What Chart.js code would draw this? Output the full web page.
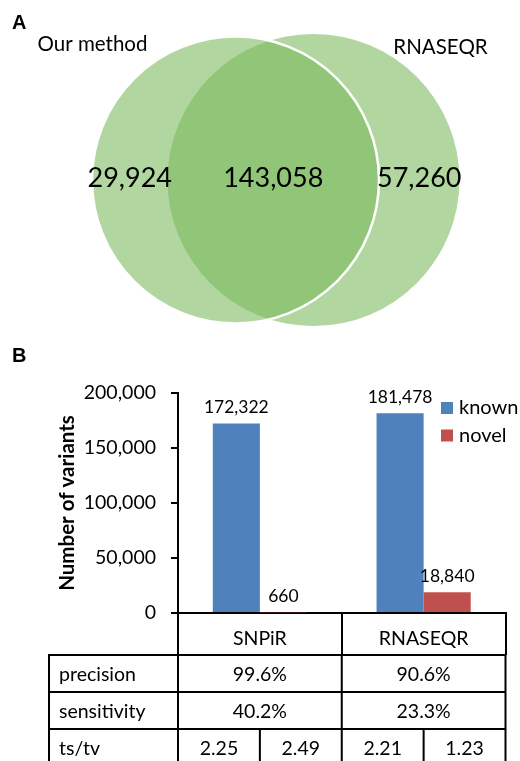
<!DOCTYPE html>
<html>
<head>
<meta charset="utf-8">
<script src="https://cdn.jsdelivr.net/npm/chart.js@4.4.1/dist/chart.umd.min.js"></script>
<style>
  html, body { margin: 0; padding: 0; background: #fff; }
  #fig { position: relative; width: 520px; height: 761px; overflow: hidden; }
  #venn { position: absolute; left: 0; top: 0; }
  #bars { position: absolute; left: 0; top: 340px; }
</style>
</head>
<body>
<div id="fig">
  <canvas id="venn" width="520" height="340"></canvas>
  <canvas id="bars" width="520" height="421"></canvas>
</div>
<script>
// ---- Panel A: overlap of called variants ----
const vennSets = ['Our method', 'RNASEQR'];
const vennCounts = [29924, 143058, 57260];   // only first set, shared, only second set

// ---- Panel B: variant counts per caller ----
const methods = ['SNPiR', 'RNASEQR'];
const seriesNames = ['known', 'novel'];
const knownCounts = [172322, 181478];
const novelCounts = [660, 18840];
const yTicks = [0, 50000, 100000, 150000, 200000];

// ---- Panel B: summary table under the bars ----
const metricNames = ['precision', 'sensitivity', 'ts/tv'];
const precision = ['99.6%', '90.6%'];
const sensitivity = ['40.2%', '23.3%'];
const tsTvKnown = ['2.25', '2.21'];
const tsTvNovel = ['2.49', '1.23'];

const FONT = 'Lato, "Open Sans", sans-serif';
const BOLD_FONT = '"Liberation Sans", Arial, sans-serif';
const fmt = v => Number(v).toLocaleString('en-US');

// Panel A canvas layout: a fixed inner margin keeps the big bubbles from
// shrinking the plot area, and the scale ranges then equal canvas pixels.
const VENN_W = 520, VENN_H = 340, VENN_PAD = 150;
const circleLayout = [
  { x: 235.5, y: 180, radius: 143.5 },
  { x: 313.5, y: 180, radius: 146 }
];
const GREEN = 'rgba(123,185,92,0.58)';

const vennText = {
  id: 'vennText',
  afterDatasetsDraw(chart) {
    const ctx = chart.ctx;
    const a = chart.getDatasetMeta(0).data[0];
    const b = chart.getDatasetMeta(1).data[0];
    const ra = a.options.radius, rb = b.options.radius;
    const aL = a.x - ra, aR = a.x + ra, bL = b.x - rb, bR = b.x + rb;
    ctx.save();
    ctx.fillStyle = '#000';
    ctx.textAlign = 'center';
    ctx.textBaseline = 'middle';
    ctx.font = '27px ' + FONT;
    const cy = a.y - 2;
    ctx.fillText(fmt(vennCounts[0]), (aL + bL) / 2, cy);
    ctx.fillText(fmt(vennCounts[1]), (bL + aR) / 2, cy);
    ctx.fillText(fmt(vennCounts[2]), (aR + bR) / 2, cy);
    ctx.font = '20.5px ' + FONT;
    ctx.fillText(vennSets[0], aL + 0.5, a.y - 136);
    ctx.fillText(vennSets[1], bR - 19, b.y - 133);
    ctx.textAlign = 'left';
    ctx.textBaseline = 'alphabetic';
    ctx.font = 'bold 20px ' + BOLD_FONT;
    ctx.fillText('A', 12, 29);
    ctx.restore();
  }
};

new Chart(document.getElementById('venn'), {
  type: 'bubble',
  data: {
    datasets: vennSets.map((name, i) => ({
      label: name,
      data: [{ x: circleLayout[i].x, y: circleLayout[i].y }],
      radius: circleLayout[i].radius,
      hoverRadius: 0,
      backgroundColor: GREEN,
      borderColor: '#ffffff',
      borderWidth: i === 0 ? 2.5 : 0,
      clip: false
    }))
  },
  options: {
    responsive: false,
    animation: false,
    events: [],
    layout: { padding: VENN_PAD },
    plugins: { legend: { display: false }, tooltip: { enabled: false } },
    scales: {
      x: { type: 'linear', min: VENN_PAD, max: VENN_W - VENN_PAD, display: false },
      y: { type: 'linear', min: VENN_PAD, max: VENN_H - VENN_PAD, reverse: true, display: false }
    }
  },
  plugins: [vennText]
});

// value labels above each bar
const barValues = {
  id: 'barValues',
  afterDatasetsDraw(chart) {
    const ctx = chart.ctx;
    ctx.save();
    ctx.fillStyle = '#000';
    ctx.textAlign = 'center';
    ctx.textBaseline = 'middle';
    ctx.font = '17.5px ' + FONT;
    chart.data.datasets.forEach((ds, di) => {
      chart.getDatasetMeta(di).data.forEach((bar, i) => {
        ctx.fillText(fmt(ds.data[i]), bar.x, bar.y - 16);
      });
    });
    ctx.restore();
  }
};

// series key in the top right corner
const seriesKey = {
  id: 'seriesKey',
  afterDraw(chart) {
    const ctx = chart.ctx;
    const area = chart.chartArea;
    const x0 = area.right - 64.5;
    ctx.save();
    ctx.font = '20px ' + FONT;
    ctx.textBaseline = 'middle';
    ctx.textAlign = 'left';
    chart.data.datasets.forEach((ds, i) => {
      const cy = area.top + 15 + i * 27.5;
      ctx.fillStyle = ds.backgroundColor;
      ctx.fillRect(x0, cy - 6, 12, 12);
      ctx.fillStyle = '#000';
      ctx.fillText(ds.label, x0 + 18, cy);
    });
    ctx.restore();
  }
};

// metrics table aligned with the category axis
const metricsTable = {
  id: 'metricsTable',
  afterDraw(chart) {
    const ctx = chart.ctx;
    const xs = chart.scales.x;
    const area = chart.chartArea;
    const tableLeft = 49;
    const rowH = 37;
    const top = xs.top + xs.options.grid.tickLength;
    const c0 = xs.getPixelForValue(0), c1 = xs.getPixelForValue(1);
    const left = area.left, mid = (c0 + c1) / 2, right = area.right;
    const bottom = chart.height + 5;
    ctx.save();
    ctx.strokeStyle = '#000';
    ctx.lineWidth = 2;
    ctx.beginPath();
    for (let r = 0; r < metricNames.length; r++) {
      const y = top + r * rowH;
      ctx.moveTo(tableLeft - 1, y); ctx.lineTo(right + 1, y);
    }
    [tableLeft, left, mid, right].forEach(x => { ctx.moveTo(x, top); ctx.lineTo(x, bottom); });
    const tsTop = top + 2 * rowH;
    [c0, c1].forEach(x => { ctx.moveTo(x, tsTop); ctx.lineTo(x, bottom); });
    ctx.stroke();

    ctx.fillStyle = '#000';
    ctx.font = '19.5px ' + FONT;
    ctx.textBaseline = 'middle';
    metricNames.forEach((name, r) => {
      const cy = top + r * rowH + rowH / 2 + 1;
      ctx.textAlign = 'left';
      ctx.fillText(name, tableLeft + 10, cy);
      ctx.textAlign = 'center';
      if (r === 0 || r === 1) {
        const vals = r === 0 ? precision : sensitivity;
        ctx.fillText(vals[0], c0, cy);
        ctx.fillText(vals[1], c1, cy);
      } else {
        ctx.fillText(tsTvKnown[0], (left + c0) / 2, cy);
        ctx.fillText(tsTvNovel[0], (c0 + mid) / 2, cy);
        ctx.fillText(tsTvKnown[1], (mid + c1) / 2, cy);
        ctx.fillText(tsTvNovel[1], (c1 + right) / 2, cy);
      }
    });
    ctx.textAlign = 'left';
    ctx.textBaseline = 'alphabetic';
    ctx.font = 'bold 20px ' + BOLD_FONT;
    ctx.fillText('B', 12, 22);
    ctx.restore();
  }
};

new Chart(document.getElementById('bars'), {
  type: 'bar',
  data: {
    labels: methods,
    datasets: [
      { label: seriesNames[0], data: knownCounts, backgroundColor: '#4F81BD' },
      { label: seriesNames[1], data: novelCounts, backgroundColor: '#C0504D' }
    ]
  },
  options: {
    responsive: false,
    animation: false,
    events: [],
    datasets: { bar: { categoryPercentage: 0.575, barPercentage: 1 } },
    layout: { padding: { top: 53, right: 14.5, left: 0, bottom: 0 } },
    plugins: { legend: { display: false }, tooltip: { enabled: false } },
    scales: {
      x: {
        grid: { offset: true, drawOnChartArea: false, drawTicks: true, tickLength: 42, color: '#000', lineWidth: 2 },
        border: { display: true, color: '#000', width: 2 },
        ticks: { font: { family: FONT, size: 19.5 }, color: '#000', padding: -28 },
        afterFit(s) { s.height = 148; }
      },
      y: {
        min: 0, max: 200000,
        afterBuildTicks(s) { s.ticks = yTicks.map(v => ({ value: v })); },
        grid: { drawOnChartArea: false, drawTicks: true, tickLength: 7, color: '#000', lineWidth: 2 },
        border: { display: true, color: '#000', width: 2 },
        ticks: { font: { family: FONT, size: 19.5 }, color: '#000', padding: 15, callback: v => fmt(v) },
        title: {
          display: true, text: 'Number of variants', color: '#000',
          font: { family: FONT, size: 20.5, weight: 'bold' },
          padding: { top: 55, bottom: 0 }
        },
        afterFit(s) { s.width = 178; }
      }
    }
  },
  plugins: [barValues, seriesKey, metricsTable]
});
</script>
</body>
</html>
